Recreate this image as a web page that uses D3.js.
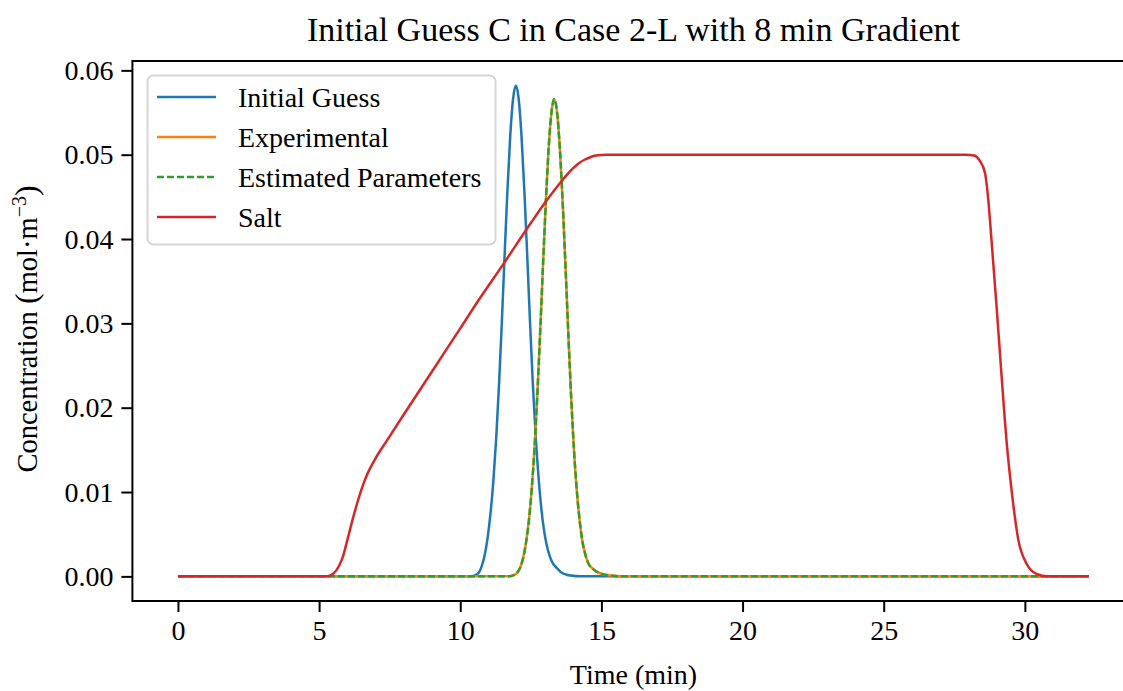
<!DOCTYPE html>
<html>
<head>
<meta charset="utf-8">
<script src="https://cdn.jsdelivr.net/npm/d3@7"></script>
<style>
  html, body { margin: 0; padding: 0; background: #fff; }
  svg text { font-family: "Liberation Serif", "Times New Roman", "DejaVu Serif", serif; fill: #000; }
</style>
</head>
<body>
<svg id="chart" width="1123" height="691"></svg>
<script>
// ---------------- Data ----------------
const chartTitle = "Initial Guess C in Case 2-L with 8 min Gradient";
const xLabel = "Time (min)";
const seriesNames = ["Initial Guess", "Experimental", "Estimated Parameters", "Salt"];
const seriesColors = ["#1f77b4", "#ff7f0e", "#2ca02c", "#d62728"];

const xTicks = [0, 5, 10, 15, 20, 25, 30];
const yTicks = [0.00, 0.01, 0.02, 0.03, 0.04, 0.05, 0.06];

// Initial Guess
const guessTime = [0, 10.37, 10.57, 10.67, 10.77, 10.87, 10.97, 11.07, 11.17, 11.27, 11.37, 11.47, 11.57, 11.67, 11.77, 11.87, 11.97,
                   12.07, 12.17, 12.27, 12.37, 12.47, 12.57, 12.67, 12.77, 12.87, 12.97, 13.07, 13.17, 13.27, 13.42, 13.57, 13.77, 13.92, 14.27, 32.27];
const guessConc = [0, 0, 0.0002, 0.0005, 0.0013, 0.0026, 0.0046, 0.0074, 0.0112, 0.0162, 0.0225, 0.0299, 0.0380, 0.0457, 0.0522, 0.0566, 0.0582,
                   0.0566, 0.0522, 0.0458, 0.0382, 0.0302, 0.0229, 0.0167, 0.0119, 0.0081, 0.0054, 0.0036, 0.0024, 0.0016, 0.0010, 0.0005, 0.0002, 0.0001, 0, 0];

// Experimental
const expTime = [0, 11.73, 11.93, 12.03, 12.13, 12.23, 12.33, 12.43, 12.53, 12.63, 12.73, 12.83, 12.93, 13.03, 13.13, 13.23, 13.33,
                 13.43, 13.53, 13.63, 13.73, 13.83, 13.93, 14.03, 14.13, 14.23, 14.33, 14.43, 14.53, 14.73, 14.93, 15.13, 15.33, 15.73, 32.27];
const expConc = [0, 0, 0.0002, 0.0005, 0.0011, 0.0022, 0.0040, 0.0066, 0.0103, 0.0152, 0.0215, 0.0289, 0.0368, 0.0443, 0.0507, 0.0550, 0.0566,
                 0.0550, 0.0506, 0.0442, 0.0366, 0.0286, 0.0211, 0.0149, 0.0101, 0.0066, 0.0041, 0.0026, 0.0016, 0.0008, 0.0004, 0.0002, 0.0001, 0, 0];

// Estimated Parameters (overlaps the experimental curve)
const estTime = [0, 11.73, 11.93, 12.03, 12.13, 12.23, 12.33, 12.43, 12.53, 12.63, 12.73, 12.83, 12.93, 13.03, 13.13, 13.23, 13.33,
                 13.43, 13.53, 13.63, 13.73, 13.83, 13.93, 14.03, 14.13, 14.23, 14.33, 14.43, 14.53, 14.73, 14.93, 15.13, 15.33, 15.73, 32.27];
const estConc = [0, 0, 0.0002, 0.0005, 0.0011, 0.0022, 0.0040, 0.0066, 0.0103, 0.0152, 0.0215, 0.0289, 0.0368, 0.0443, 0.0507, 0.0550, 0.0566,
                 0.0550, 0.0506, 0.0442, 0.0366, 0.0286, 0.0211, 0.0149, 0.0101, 0.0066, 0.0041, 0.0026, 0.0016, 0.0008, 0.0004, 0.0002, 0.0001, 0, 0];

// Salt
const saltTime = [0, 5.1, 5.3, 5.5, 5.7, 5.84, 6.0, 6.2, 6.35, 6.52, 6.69, 7.0, 7.4, 8, 9, 10, 10.7, 11.52, 12.5, 13.0,
                  13.5, 13.8, 14.0, 14.2, 14.4, 14.6, 14.8, 15.2, 20, 27.9, 28.2, 28.4, 28.59, 28.7, 28.82, 29.0,
                  29.17, 29.35, 29.53, 29.77, 30.06, 30.41, 30.8, 32.27];
const saltConc = [0, 0, 0.00003, 0.0003, 0.0012, 0.0023, 0.0043, 0.0069, 0.0087, 0.0105, 0.0120, 0.0140, 0.0161, 0.0192, 0.0243, 0.0294, 0.0330, 0.0370, 0.0419, 0.0443,
                  0.0465, 0.0477, 0.0484, 0.0490, 0.0494, 0.0497, 0.0499, 0.0500, 0.0500, 0.0500, 0.0499, 0.0493, 0.0478, 0.0448, 0.0398, 0.0319,
                  0.0240, 0.0161, 0.0102, 0.0043, 0.0015, 0.0003, 0.0000, 0];

// ---------------- Chart ----------------
const svg = d3.select("#chart");
const plot = { left: 132.4, right: 1134.5, top: 61, bottom: 601 };

const xMax = 32.27, xPad = xMax * 0.05;
const x = d3.scaleLinear().domain([-xPad, xMax + xPad]).range([plot.left, plot.right]);
const yMaxData = 0.0582, yPad = yMaxData * 0.05;
const y = d3.scaleLinear().domain([-yPad - 0.00001, yMaxData + yPad]).range([plot.bottom, plot.top]);

const series = [
  { name: seriesNames[0], color: seriesColors[0], t: guessTime, c: guessConc, dash: null },
  { name: seriesNames[1], color: seriesColors[1], t: expTime, c: expConc, dash: null },
  { name: seriesNames[2], color: seriesColors[2], t: estTime, c: estConc, dash: "7,3" },
  { name: seriesNames[3], color: seriesColors[3], t: saltTime, c: saltConc, dash: null }
];

const line = d3.line()
  .x(d => x(d[0]))
  .y(d => y(d[1]))
  .curve(d3.curveMonotoneX);

const lineW = 2.5;
const g = svg.append("g");
series.forEach(s => {
  const pts = s.t.map((t, i) => [t, s.c[i]]);
  g.append("path")
    .attr("d", line(pts))
    .attr("fill", "none")
    .attr("stroke", s.color)
    .attr("stroke-width", lineW)
    .attr("stroke-linejoin", "round")
    .attr("stroke-dasharray", s.dash);
});

// Axes frame
svg.append("rect")
  .attr("x", plot.left).attr("y", plot.top)
  .attr("width", plot.right - plot.left).attr("height", plot.bottom - plot.top)
  .attr("fill", "none").attr("stroke", "#000").attr("stroke-width", 2);

// X axis
const xAxis = d3.axisBottom(x).tickValues(xTicks).tickFormat(d3.format("d")).tickSize(11).tickPadding(8);
const gx = svg.append("g").attr("transform", `translate(0,${plot.bottom})`).call(xAxis);
gx.select(".domain").remove();
gx.selectAll(".tick line").attr("stroke", "#000").attr("stroke-width", 2);
gx.selectAll(".tick text").attr("font-size", 28).attr("font-family", null);

// Y axis
const yAxis = d3.axisLeft(y).tickValues(yTicks).tickFormat(d3.format(".2f")).tickSize(11).tickPadding(8);
const gy = svg.append("g").attr("transform", `translate(${plot.left},0)`).call(yAxis);
gy.select(".domain").remove();
gy.selectAll(".tick line").attr("stroke", "#000").attr("stroke-width", 2);
gy.selectAll(".tick text").attr("font-size", 28).attr("font-family", null);

// Title
svg.append("text")
  .attr("x", (plot.left + plot.right) / 2).attr("y", 41)
  .attr("text-anchor", "middle").attr("font-size", 34)
  .text(chartTitle);

// X label
svg.append("text")
  .attr("x", (plot.left + plot.right) / 2).attr("y", 684)
  .attr("text-anchor", "middle").attr("font-size", 28)
  .text(xLabel);

// Y label with superscript
const yl = svg.append("text")
  .attr("transform", `translate(37,${(plot.top + plot.bottom) / 2 - 2}) rotate(-90)`)
  .attr("text-anchor", "middle").attr("font-size", 28.5);
yl.append("tspan").text("Concentration ");
yl.append("tspan").attr("font-size", 32).text("(");
yl.append("tspan").text("mol\u00B7m");
yl.append("tspan").attr("font-size", 20).attr("dy", -11).text("\u22123");
yl.append("tspan").attr("font-size", 32).attr("dy", 11).text(")");

// Legend
const leg = svg.append("g");
leg.append("rect")
  .attr("x", 147.5).attr("y", 75.5).attr("width", 348).attr("height", 169)
  .attr("rx", 6).attr("ry", 6)
  .attr("fill", "#fff").attr("fill-opacity", 0.8)
  .attr("stroke", "#d6d6d6").attr("stroke-width", 2);
series.forEach((s, i) => {
  const cy = 97 + i * 40;
  leg.append("line")
    .attr("x1", 157).attr("x2", 216).attr("y1", cy).attr("y2", cy)
    .attr("stroke", s.color).attr("stroke-width", lineW)
    .attr("stroke-dasharray", s.dash);
  leg.append("text")
    .attr("x", 238).attr("y", cy).attr("dy", "0.35em")
    .attr("font-size", 28)
    .text(s.name);
});
</script>
</body>
</html>
